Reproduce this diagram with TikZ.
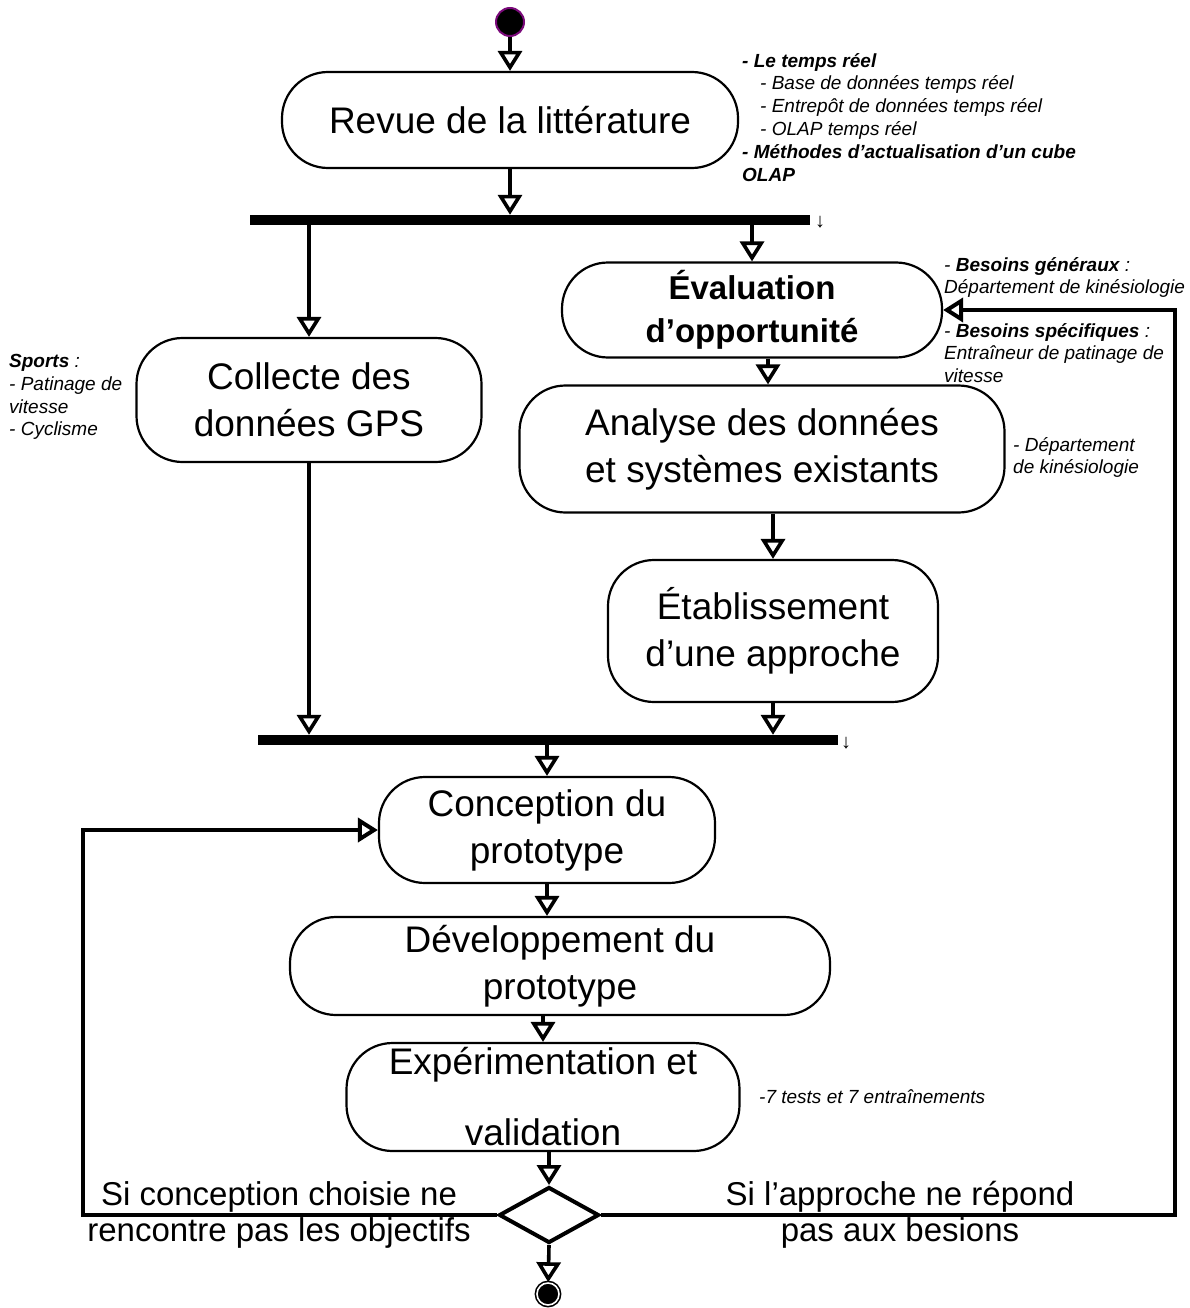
\documentclass[tikz,border=0pt]{standalone}
\usepackage{fontspec}
\setmainfont{Liberation Sans}
\usepackage{xcolor}
\usepackage{tikz}
\usetikzlibrary{arrows.meta, positioning, calc, shapes.geometric}
\definecolor{kpurple}{HTML}{7A0A7A}
\tikzset{
  actbox/.style={draw=black, fill=white, rounded corners=46pt, line width=2.2pt,
                 align=center, inner sep=0pt,
                 font=\fontsize{37}{47}\selectfont},
  actboxb/.style={actbox, font=\fontsize{33}{43}\selectfont\bfseries},
  forkbar/.style={fill=black, draw=none, minimum height=10pt, inner sep=0pt},
  flow/.style={-{Triangle[open, length=20pt, width=24pt]}, line width=3.6pt},
  loopline/.style={flow, line width=4pt},
  startnode/.style={circle, fill=black, draw=kpurple, line width=2pt,
                    minimum size=28pt, inner sep=0pt},
  endnode/.style={circle, fill=black, draw=black, double=white, double distance=1.6pt,
                  line width=1.6pt, minimum size=22pt, inner sep=0pt},
  decision/.style={diamond, draw=black, fill=white, line width=4pt,
                   minimum width=100pt, minimum height=56pt, inner sep=0pt},
  note/.style={font=\fontsize{19}{22.8}\selectfont\itshape, align=left,
               inner sep=0pt, anchor=north west},
  condlabel/.style={font=\fontsize{33}{36}\selectfont, align=center, inner sep=0pt},
  tinyarrow/.style={font=\fontsize{20}{20}\selectfont, inner sep=0pt},
}

\begin{document}
\begin{tikzpicture}[x=1pt, y=-1pt]

  \useasboundingbox (0,0) rectangle (1189,1308);

  \node[startnode] (start) at (510,22) {};

  \node[actbox, minimum width=456pt, minimum height=96pt] (revue) at (510,120)
    {Revue de la littérature};

  \node[forkbar, minimum width=560pt] (fork1) at (530,220) {};
  \node[tinyarrow] (fork1tip) at (820,222) {↓};

  \node[actboxb, minimum width=380pt, minimum height=95pt] (eval) at (752,310)
    {Évaluation\\d’opportunité};
  \node[actbox, minimum width=345pt, minimum height=124pt] (coll) at (309,400)
    {Collecte des\\données GPS};
  \node[actbox, minimum width=485pt, minimum height=127pt] (anal) at (762,449)
    {Analyse des données\\et systèmes existants};
  \node[actbox, minimum width=330pt, minimum height=142pt] (etab) at (773,631)
    {Établissement\\d’une approche};

  \node[forkbar, minimum width=580pt] (fork2) at (548,740) {};
  \node[tinyarrow] (fork2tip) at (846,743) {↓};

  \node[actbox, minimum width=336pt, minimum height=106pt] (conc) at (547,830)
    {Conception du\\prototype};
  \node[actbox, minimum width=540pt, minimum height=98pt] (dev) at (560,966)
    {Développement du\\prototype};
  \node[actbox, minimum width=393pt, minimum height=108pt,
        font=\fontsize{37}{71}\selectfont] (exper) at (543,1097)
    {Expérimentation et\\validation};

  \node[decision] (dec) at (549,1215) {};
  \node[endnode] (stop) at (548,1294) {};

  % connecteurs
  \draw[flow] (start) -- (revue);
  \draw[flow] (revue.south) -- (revue.south |- fork1.north);
  \draw[flow] (fork1.south -| coll.north) -- (coll.north);
  \draw[flow] (fork1.south -| eval.north) -- (eval.north);
  \draw[flow] (eval.south -| 768,0) -- (anal.north -| 768,0);
  \draw[flow] (anal.south -| etab.north) -- (etab.north);
  \draw[flow] (coll.south) -- (coll.south |- fork2.north);
  \draw[flow] (etab.south) -- (etab.south |- fork2.north);
  \draw[flow] (fork2.south -| conc.north) -- (conc.north);
  \draw[flow] (conc.south) -- (conc.south |- dev.north);
  \draw[flow] (dev.south -| exper.north) -- (exper.north);
  \draw[flow] (exper.south -| dec.north) -- (dec.north);
  \draw[flow] (dec.south) -- (stop);

  \coordinate (loopL) at (83,1215);
  \coordinate (loopR) at (1175,1215);
  \draw[loopline] (dec.west) -- (loopL) |- (conc.west);
  \draw[loopline] (dec.east) -- (loopR) |- (eval.east);

  \node[condlabel] (lblconc) at (279,1215)
    {Si conception choisie ne\\rencontre pas les objectifs};
  \node[condlabel] (lblappr) at (900,1215)
    {Si l’approche ne répond\\pas aux besions};

  % annotations
  \node[note] (notelitt) at (742,53)
    {\textbf{- Le temps réel}\\
     \hspace*{18pt}- Base de données temps réel\\
     \hspace*{18pt}- Entrepôt de données temps réel\\
     \hspace*{18pt}- OLAP temps réel\\
     \textbf{- Méthodes d’actualisation d’un cube}\\
     \textbf{OLAP}};
  \node[note] (notegen) at (944,257)
    {- \textbf{Besoins généraux} :\\Département de kinésiologie};
  \node[note] (notespec) at (944,323)
    {- \textbf{Besoins spécifiques} :\\Entraîneur de patinage de\\vitesse};
  \node[note] (notesport) at (9,354)
    {\textbf{Sports} :\\- Patinage de\\vitesse\\- Cyclisme};
  \node[note] (notekin) at (1013,437)
    {- Département\\de kinésiologie};
  \node[note, anchor=west] (notetest) at (759,1097)
    {-7 tests et 7 entraînements};

\end{tikzpicture}
\end{document}
